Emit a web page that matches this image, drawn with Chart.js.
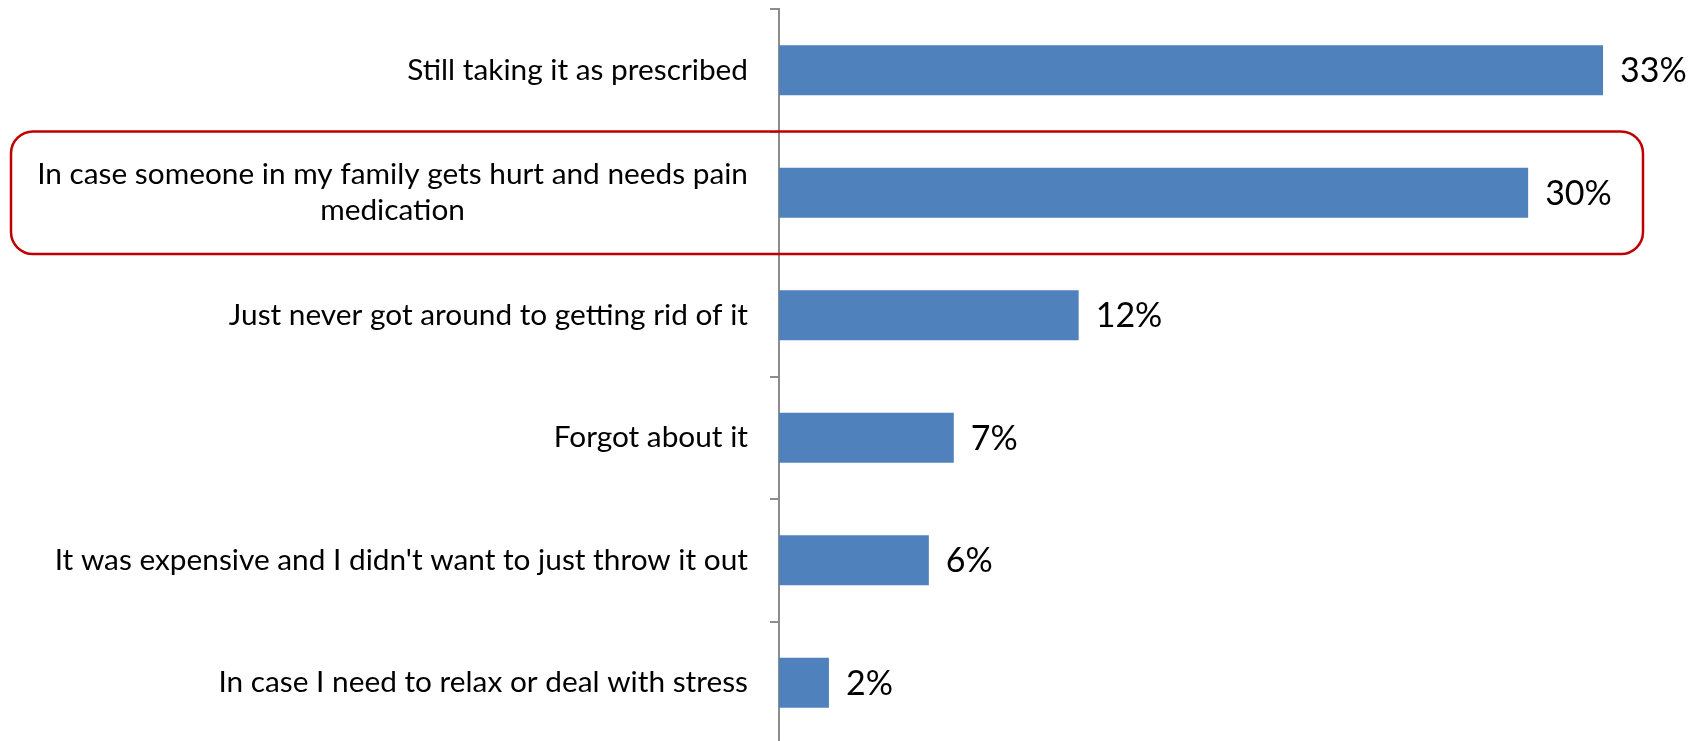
<!DOCTYPE html>
<html>
<head>
<meta charset="utf-8">
<script src="https://cdn.jsdelivr.net/npm/chart.js@4/dist/chart.umd.min.js"></script>
<style>
    html, body { margin: 0; padding: 0; background: #fff; overflow: hidden; }
    #wrap { width: 1694px; height: 750px; }
</style>
</head>
<body>
<div id="wrap"><canvas id="grafico" width="1694" height="750"></canvas></div>
<script>
const categorias = [
    'Still taking it as prescribed',
    ['In case someone in my family gets hurt and needs pain', 'medication'],
    'Just never got around to getting rid of it',
    'Forgot about it',
    "It was expensive and I didn't want to just throw it out",
    'In case I need to relax or deal with stress'
];
const percentuais = [33, 30, 12, 7, 6, 2];
const rotulosValor = ['33%', '30%', '12%', '7%', '6%', '2%'];
const destaqueIndice = 1;

const fonteRotulo = '29.8px Lato, "Open Sans", sans-serif';
const fonteValor = '34px Lato, "Open Sans", sans-serif';

// desenha os rótulos do eixo y (linhas centralizadas entre si), os valores e a caixa vermelha
const pluginRotulos = {
    id: 'pluginRotulos',
    afterDraw(chart) {
        const ctx = chart.ctx;
        const yScale = chart.scales.y;
        const xScale = chart.scales.x;
        const area = chart.chartArea;

        ctx.save();
        ctx.fillStyle = '#000';
        ctx.textBaseline = 'middle';

        // rótulos das categorias
        ctx.font = fonteRotulo;
        const direita = area.left - 31;
        categorias.forEach((cat, i) => {
            const linhas = Array.isArray(cat) ? cat : [cat];
            const larguras = linhas.map(l => ctx.measureText(l).width);
            const maior = Math.max(...larguras);
            const centroX = direita - maior / 2;
            const yc = yScale.getPixelForValue(i);
            const passo = 36;
            linhas.forEach((l, j) => {
                const y = yc + (j - (linhas.length - 1) / 2) * passo;
                ctx.textAlign = 'center';
                ctx.fillText(l, centroX, y);
            });
        });

        // valores ao lado das barras
        ctx.font = fonteValor;
        ctx.textAlign = 'left';
        const meta = chart.getDatasetMeta(0);
        meta.data.forEach((bar, i) => {
            ctx.fillText(rotulosValor[i], bar.x + 17, bar.y + 1);
        });

        // caixa de destaque
        const meio = (yScale.getPixelForValue(1) - yScale.getPixelForValue(0)) / 2;
        const yTopo = yScale.getPixelForValue(destaqueIndice) - meio;
        const yBase = yScale.getPixelForValue(destaqueIndice) + meio;
        const xEsq = 11;
        const xDir = xScale.right - 10;
        ctx.strokeStyle = '#C00000';
        ctx.lineWidth = 2.5;
        ctx.beginPath();
        ctx.roundRect(xEsq, yTopo, xDir - xEsq, yBase - yTopo, 22);
        ctx.stroke();
        ctx.restore();
    }
};

const ctx = document.getElementById('grafico').getContext('2d');

const myChart = new Chart(ctx, {
    type: 'bar',
    data: {
        labels: categorias,
        datasets: [{
            data: percentuais,
            backgroundColor: '#4F81BD',
            borderWidth: 0,
            barPercentage: 0.41,
            categoryPercentage: 1
        }]
    },
    options: {
        indexAxis: 'y',
        responsive: false,
        animation: false,
        layout: {
            padding: { left: 0, right: 41, top: 9, bottom: 6 }
        },
        plugins: {
            legend: { display: false },
            tooltip: { enabled: false }
        },
        scales: {
            x: {
                display: false,
                min: 0,
                max: 35
            },
            y: {
                offset: true,
                afterFit: function (scale) {
                    scale.width = 779;
                },
                grid: {
                    offset: true,
                    drawOnChartArea: false,
                    drawTicks: true,
                    tickLength: 9,
                    color: '#8C8C8C',
                    lineWidth: 2
                },
                border: {
                    display: true,
                    color: '#8C8C8C',
                    width: 2
                },
                ticks: {
                    display: false
                }
            }
        }
    },
    plugins: [pluginRotulos]
});
</script>
</body>
</html>
